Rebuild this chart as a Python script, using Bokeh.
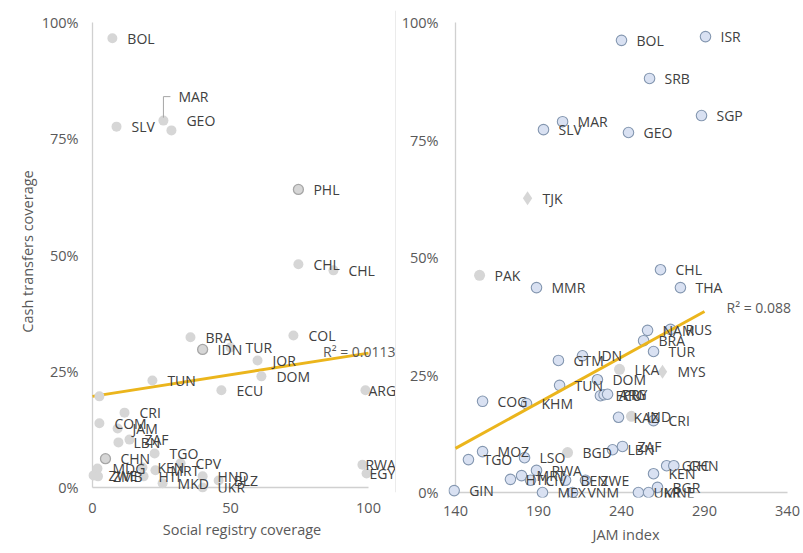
from bokeh.plotting import figure
from bokeh.models import (ColumnDataSource, LabelSet, Label, FixedTicker,
                          PrintfTickFormatter, Range1d, Span, Title)
from bokeh.layouts import row
from bokeh.embed import file_html
from bokeh.resources import INLINE
from bokeh.core.properties import value

# ---------------- data: social registry coverage vs cash transfer coverage ----------------
left_codes = ["BOL", "SLV", "MAR", "GEO", "PHL", "CHL", "CHL", "BRA", "IDN", "COL",
              "TUR", "JOR", "DOM", "ECU", "TUN", "", "ARG", "RWA", "EGY", "CRI",
              "COM", "JAM", "ZAF", "LBN", "CHN", "TGO", "MDG", "ZWE", "ZMB", "KEN",
              "MRT", "HTI", "CPV", "MKD", "HND", "BLZ", "UKR"]
left_registry = [7.2, 8.7, 25.7, 28.6, 74.6, 74.6, 87.3, 35.5, 39.9, 72.8,
                 50.0, 59.8, 61.2, 46.7, 21.7, 2.5, 98.9, 97.8, 99.3, 11.6,
                 2.5, 9.1, 13.4, 9.4, 4.7, 22.5, 1.8, 0.4, 2.0, 18.1,
                 22.8, 18.5, 31.9, 25.4, 39.9, 45.7, 39.9]
left_cash = [96.6, 77.6, 78.9, 76.8, 64.1, 48.0, 46.7, 32.3, 29.7, 32.7,
             30.1, 27.3, 23.9, 20.9, 23.0, 19.6, 20.9, 4.9, 3.0, 16.1,
             13.8, 12.7, 10.3, 9.7, 6.2, 7.3, 4.1, 2.6, 2.4, 4.3,
             3.7, 2.4, 5.2, 0.9, 2.4, 1.5, 0.0]
left_outlined = ["PHL", "IDN", "CHN"]
left_trend_x = [0, 100]
left_trend_y = [19.6, 28.9]
left_r2 = "R² = 0.0113"
left_xticks = [0, 50, 100]
left_xtitle = "Social registry coverage"
left_ytitle = "Cash transfers coverage"

# ---------------- data: JAM index vs cash transfer coverage ----------------
right_codes = ["ISR", "BOL", "SRB", "SGP", "SLV", "MAR", "GEO", "TJK", "PAK", "MMR",
               "CHL", "THA", "NAM", "RUS", "BRA", "TUR", "MYS", "LKA", "IDN", "GTM",
               "DOM", "TUN", "ECU", "ARG", "PRY", "COG", "KHM", "KAZ", "IND", "CRI",
               "ZAF", "LBN", "BGD", "LSO", "MOZ", "TGO", "RWA", "MRT", "HTI", "CIV",
               "BEN", "ZWE", "MEX", "VNM", "UKR", "MNE", "BGR", "KEN", "GRC", "CHN",
               "GIN"]
right_jam = [290.6, 240.0, 256.9, 288.2, 193.0, 204.5, 244.2, 183.4, 154.5, 188.8,
             263.5, 275.5, 255.7, 269.5, 253.3, 259.3, 264.7, 238.8, 216.5, 202.0,
             225.5, 202.7, 227.3, 229.5, 231.6, 156.3, 182.8, 238.2, 246.0, 259.3,
             240.6, 234.6, 207.5, 181.6, 156.3, 147.8, 188.8, 179.8, 173.1, 185.2,
             206.3, 218.3, 192.4, 210.5, 250.2, 256.3, 261.7, 259.3, 267.2, 271.5,
             139.2]
right_cash = [97.0, 96.2, 88.1, 80.2, 77.2, 78.9, 76.6, 62.6, 46.2, 43.6,
              47.4, 43.6, 34.5, 34.7, 32.3, 30.0, 25.7, 26.2, 29.1, 28.1,
              24.0, 22.8, 20.6, 20.8, 20.9, 19.4, 18.9, 16.0, 16.2, 15.3,
              9.8, 9.1, 8.5, 7.4, 8.7, 7.0, 4.7, 3.6, 2.8, 2.6,
              2.6, 2.6, 0.0, 0.0, 0.0, 0.0, 1.1, 4.0, 5.7, 5.7,
              0.4]
# marker style group: 0 = outlined circle, 1 = plain grey circle, 2 = grey diamond
right_kind = [0, 0, 0, 0, 0, 0, 0, 2, 1, 0,
              0, 0, 0, 0, 0, 0, 2, 1, 0, 0,
              0, 0, 0, 0, 0, 0, 0, 0, 1, 0,
              0, 0, 1, 0, 0, 0, 0, 0, 0, 0,
              0, 0, 0, 0, 0, 0, 0, 0, 0, 0,
              0]
right_trend_x = [140, 290]
right_trend_y = [9.4, 38.5]
right_r2 = "R² = 0.088"
right_xticks = [140, 190, 240, 290, 340]
right_xtitle = "JAM index"

y_ticks = [0, 25, 50, 75, 100]

# ---------------- styling ----------------
FONT = "Open Sans"
LABEL_COLOR = "#404040"
TICK_COLOR = "#595959"
AXIS_COLOR = "#d0d0d0"
TREND_COLOR = "#ebb51c"
GREY_FILL = "#d6d6d6"
BLUE_FILL = "#d9e1f2"
BLUE_LINE = "#8497b0"
LABEL_SIZE = "14px"
TICK_SIZE = "14.5px"
TITLE_SIZE = "14.5px"
LABEL_DX = 15


def base_figure(frame_w, frame_h, xr, yr, b_left, b_top, b_bottom, xticks):
    p = figure(frame_width=frame_w, frame_height=frame_h,
               x_range=Range1d(*xr), y_range=Range1d(*yr),
               min_border_left=b_left, min_border_right=0,
               min_border_top=b_top, min_border_bottom=b_bottom,
               output_backend="svg", toolbar_location=None,
               outline_line_color=None, background_fill_color="white",
               border_fill_color="white")
    p.xgrid.visible = False
    p.ygrid.visible = False
    for ax in (p.xaxis[0], p.yaxis[0]):
        ax.axis_line_color = None
        ax.major_tick_line_color = None
        ax.minor_tick_line_color = None
        ax.major_tick_out = 0
        ax.major_tick_in = 0
        ax.minor_tick_out = 0
        ax.minor_tick_in = 0
        ax.major_label_text_font = FONT
        ax.major_label_text_font_size = TICK_SIZE
        ax.major_label_text_color = TICK_COLOR
        ax.axis_label_text_font = FONT
        ax.axis_label_text_font_size = TITLE_SIZE
        ax.axis_label_text_font_style = "normal"
        ax.axis_label_text_color = TICK_COLOR
    p.xaxis.ticker = FixedTicker(ticks=xticks)
    p.yaxis.ticker = FixedTicker(ticks=y_ticks)
    p.yaxis.formatter = PrintfTickFormatter(format="%d%%")
    # axis lines through the data origin, limited to the tick span
    p.segment(x0=[xticks[0], xticks[0]], y0=[y_ticks[0], y_ticks[0]],
              x1=[xticks[-1], xticks[0]], y1=[y_ticks[0], y_ticks[-1]],
              line_color=AXIS_COLOR, line_width=1.3)
    return p


def x_title(p, text, offset, standoff):
    p.add_layout(Title(text=text, align="center", offset=offset, standoff=standoff,
                       text_font=FONT, text_font_size=TITLE_SIZE,
                       text_font_style="normal", text_color=TICK_COLOR), "below")


# ---------------- left chart ----------------
LKX, LKY = 2.76, 4.65          # pixels per data unit on each axis
L_W, L_H = 309, 482
l_x0 = 0 - 5 / LKX
l_y1 = 100 + 12 / LKY
left = base_figure(L_W, L_H,
                   (l_x0, l_x0 + L_W / LKX), (l_y1 - L_H / LKY, l_y1),
                   87, 10, 61, left_xticks)
left.yaxis.major_label_standoff = 9
left.xaxis.major_label_standoff = 10
left.yaxis.axis_label = left_ytitle
left.yaxis.axis_label_standoff = 2
x_title(left, left_xtitle, -9.5, 4)

l_dx = [LABEL_DX] * len(left_codes)
l_dy = [0] * len(left_codes)
for i, c in enumerate(left_codes):
    if c == "MAR":
        l_dy[i] = 24
    elif c == "GEO":
        l_dy[i] = 10
    elif c in ("ARG", "RWA", "EGY"):
        l_dx[i] = 3
l_line = [("#a6a6a6" if c in left_outlined else None) for c in left_codes]
lsrc = ColumnDataSource(dict(x=left_registry, y=left_cash, code=left_codes,
                             dx=l_dx, dy=l_dy, lc=l_line))

left.line(left_trend_x, left_trend_y, line_color=TREND_COLOR, line_width=3)
left.scatter("x", "y", source=lsrc, size=10, fill_color=GREY_FILL,
             line_color="lc", line_width=1.3)

# leader line from the MAR point up to its label
mi = left_codes.index("MAR")
mx, my = left_registry[mi], left_cash[mi]
left.line([mx, mx, mx + 7 / LKX], [my + 3 / LKY, my + 24 / LKY, my + 24 / LKY],
          line_color="#a6a6a6", line_width=1)

left.add_layout(LabelSet(x="x", y="y", text="code", source=lsrc,
                         x_offset="dx", y_offset="dy",
                         text_font=value(FONT), text_font_size=LABEL_SIZE,
                         text_color=LABEL_COLOR, text_baseline="middle",
                         text_align="left"))
left.add_layout(Label(x=left_trend_x[1], y=left_trend_y[1], x_offset=27, y_offset=2,
                      text=left_r2, text_font=FONT, text_font_size="14px",
                      text_color=TICK_COLOR, text_align="right",
                      text_baseline="middle"))
# faint divider between the two charts
left.add_layout(Span(location=l_x0 + (L_W - 1) / LKX, dimension="height",
                     line_color="#ebebeb", line_width=1))

# ---------------- right chart ----------------
RKX, RKY = 1.66, 4.7
R_W, R_H = 355, 487
r_x0 = 140 - 7 / RKX
r_y1 = 100 + 12 / RKY
right = base_figure(R_W, R_H,
                    (r_x0, r_x0 + R_W / RKX), (r_y1 - R_H / RKY, r_y1),
                    52, 8, 58, right_xticks)
right.yaxis.major_label_standoff = 10
right.xaxis.major_label_standoff = 8
x_title(right, right_xtitle, -5, 9)

trend = right.line(right_trend_x, right_trend_y, line_color=TREND_COLOR, line_width=3)

fills = {0: BLUE_FILL, 1: GREY_FILL, 2: GREY_FILL}
lines = {0: BLUE_LINE, 1: None, 2: None}
markers = {0: "circle", 1: "circle", 2: "diamond"}
sizes = {0: 10.5, 1: 11, 2: 14}
rsrc = ColumnDataSource(dict(x=right_jam, y=right_cash, code=right_codes,
                             fc=[fills[k] for k in right_kind],
                             lc=[lines[k] for k in right_kind],
                             mk=[markers[k] for k in right_kind],
                             sz=[sizes[k] for k in right_kind],
                             dx=[LABEL_DX] * len(right_codes),
                             dy=[0] * len(right_codes)))
right.scatter("x", "y", source=rsrc, size="sz", marker="mk",
              fill_color="fc", line_color="lc", line_width=1.1)
# keep the trend line above the markers
right.renderers.remove(trend)
right.renderers.append(trend)
right.add_layout(LabelSet(x="x", y="y", text="code", source=rsrc,
                          x_offset="dx", y_offset="dy",
                          text_font=value(FONT), text_font_size=LABEL_SIZE,
                          text_color=LABEL_COLOR, text_baseline="middle",
                          text_align="left"))
right.add_layout(Label(x=right_trend_x[1], y=right_trend_y[1], x_offset=22, y_offset=4,
                       text=right_r2, text_font=FONT, text_font_size="14px",
                       text_color=TICK_COLOR, text_align="left",
                       text_baseline="middle"))

layout = row(left, right)
open("out.html", "w").write(file_html(layout, INLINE))
